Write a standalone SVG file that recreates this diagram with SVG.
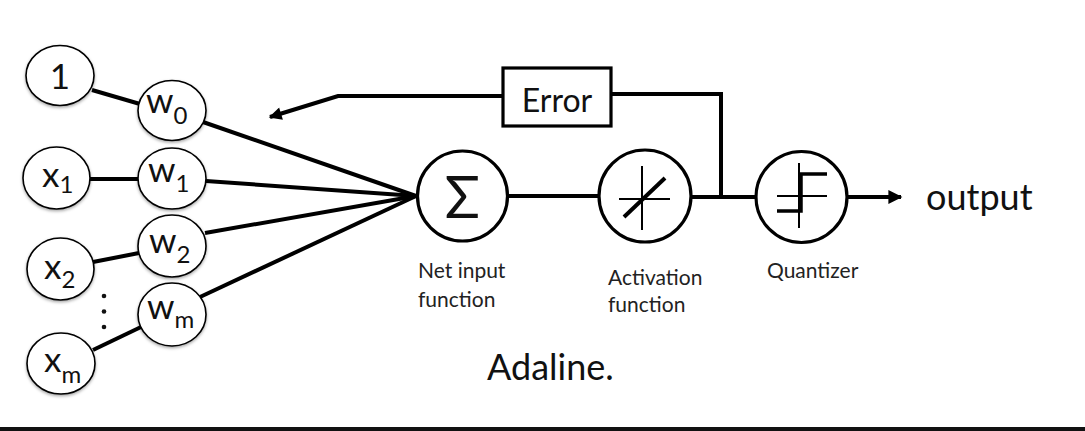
<svg xmlns="http://www.w3.org/2000/svg" width="1085" height="431" viewBox="0 0 1085 431">
<style>
.node{fill:#fff;stroke:#000;stroke-width:1.6;filter:url(#sh)}
.unit{fill:#fff;stroke:#000;stroke-width:3.2}
.lbl{font-family:Lato,"Open Sans","Liberation Sans",sans-serif;fill:#111;font-size:35px}
.sub{font-size:24px}
.cap{font-family:Lato,"Open Sans","Liberation Sans",sans-serif;fill:#222;font-size:21px}
.con{stroke:#000;stroke-width:4;fill:none}
.thin{stroke:#000;stroke-width:2;fill:none}
</style>
<defs>
<filter id="sh" x="-20%" y="-20%" width="140%" height="140%">
<feDropShadow dx="0" dy="1.5" stdDeviation="1.5" flood-color="#000" flood-opacity="0.35"/>
</filter>
<marker id="ah" viewBox="0 0 10 10" refX="9" refY="5" markerWidth="5" markerHeight="3.5" orient="auto" markerUnits="strokeWidth">
<path d="M0,0 L10,5 L0,10 Z" fill="#000"/>
</marker>
<marker id="ah2" viewBox="0 0 10 10" refX="9" refY="5" markerWidth="6" markerHeight="3.2" orient="auto" markerUnits="strokeWidth">
<path d="M0,0 L10,5 L0,10 Z" fill="#000"/>
</marker>
</defs>
<rect x="0" y="0" width="1085" height="431" fill="#fff"/>
<rect x="0" y="427" width="1085" height="4" fill="#111"/>

<g id="connectors">
<line class="con" x1="92" y1="90" x2="140" y2="104"/>
<line class="con" x1="90" y1="179" x2="138" y2="179"/>
<line class="con" x1="93" y1="262" x2="139" y2="253"/>
<line class="con" x1="93" y1="350" x2="141" y2="327"/>
<line class="con" x1="203" y1="122" x2="416" y2="196"/>
<line class="con" x1="206" y1="181" x2="416" y2="196"/>
<line class="con" x1="205" y1="233" x2="416" y2="196"/>
<line class="con" x1="200" y1="297" x2="416" y2="196"/>
<line class="con" x1="508" y1="196" x2="598" y2="196"/>
<line class="con" x1="692" y1="197" x2="755" y2="197"/>
<polyline class="con" points="721,197 721,94 611,94"/>
<polyline class="con" points="503,96 338,96 270,117" marker-end="url(#ah2)"/>
<line class="con" x1="848" y1="197" x2="901" y2="197" marker-end="url(#ah)"/>
</g>

<g id="n1"><ellipse class="node" cx="60" cy="75.5" rx="34" ry="30"/><text class="lbl" x="60" y="89" text-anchor="middle">1</text></g>
<g id="w0"><ellipse class="node" cx="172" cy="110.5" rx="34" ry="30"/><text class="lbl" x="146" y="113">w<tspan class="sub" dy="11">0</tspan></text></g>
<g id="x1"><ellipse class="node" cx="56.5" cy="178" rx="33.5" ry="31"/><text class="lbl" x="42" y="187">x<tspan class="sub" dy="6">1</tspan></text></g>
<g id="w1"><ellipse class="node" cx="172" cy="178.5" rx="34" ry="30.5"/><text class="lbl" x="148" y="182">w<tspan class="sub" dy="10">1</tspan></text></g>
<g id="x2"><ellipse class="node" cx="60.5" cy="269" rx="33.5" ry="31"/><text class="lbl" x="44" y="279">x<tspan class="sub" dy="9">2</tspan></text></g>
<g id="w2"><ellipse class="node" cx="172" cy="246" rx="34" ry="31"/><text class="lbl" x="149" y="253">w<tspan class="sub" dy="10">2</tspan></text></g>
<g id="wm"><ellipse class="node" cx="172" cy="314.5" rx="34" ry="31.5"/><text class="lbl" x="147" y="319">w<tspan class="sub" dy="9">m</tspan></text></g>
<g id="xm"><ellipse class="node" cx="61" cy="363.5" rx="34" ry="30.5"/><text class="lbl" x="44" y="372">x<tspan class="sub" dy="11">m</tspan></text></g>
<g id="dots" fill="#111"><circle cx="104" cy="296" r="2.3"/><circle cx="104" cy="311.5" r="2.3"/><circle cx="104" cy="327" r="2.3"/></g>

<g id="sum"><circle class="unit" cx="462.5" cy="196" r="45"/><text class="lbl" x="462.5" y="218" text-anchor="middle" style="font-size:58px">Σ</text></g>
<g id="activation"><circle class="unit" cx="645" cy="196" r="46"/>
<line class="thin" x1="619" y1="199" x2="670" y2="199"/>
<line class="thin" x1="642" y1="166" x2="642" y2="230"/>
<line x1="624" y1="217" x2="665" y2="178" stroke="#000" stroke-width="4"/></g>
<g id="quantizer"><circle class="unit" cx="801.5" cy="197" r="45.5"/>
<line class="thin" x1="777" y1="196" x2="827" y2="196"/>
<line class="thin" x1="799" y1="163" x2="799" y2="228"/>
<polyline points="777,211 801,211 801,174 827,174" fill="none" stroke="#000" stroke-width="3.5"/></g>

<g id="error"><rect x="503" y="68" width="108" height="58" fill="#fff" stroke="#000" stroke-width="3.2"/><text class="lbl" x="557" y="112" text-anchor="middle" style="font-size:32px">Error</text></g>

<text class="cap" x="418" y="278">Net input</text>
<text class="cap" x="418" y="307">function</text>
<text class="cap" x="608" y="285">Activation</text>
<text class="cap" x="608" y="312">function</text>
<text class="cap" x="767" y="278">Quantizer</text>
<text class="lbl" x="926" y="210" style="font-size:36px">output</text>
<text class="lbl" x="487" y="380" style="font-size:36px">Adaline.</text>
</svg>
